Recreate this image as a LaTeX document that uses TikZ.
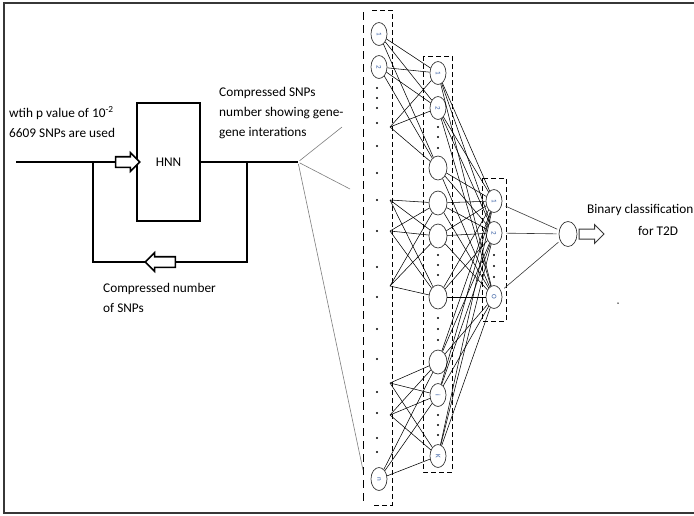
\documentclass[tikz,border=0pt]{standalone}
\usepackage{fontspec}
\setmainfont{Carlito}
\usetikzlibrary{arrows.meta, shapes.geometric, shapes.arrows, positioning, calc}
\definecolor{fgray}{RGB}{55,55,55}
\definecolor{lgray}{RGB}{125,125,125}
\definecolor{nblue}{RGB}{50,90,160}
\tikzset{
  % Neuron with a small rotated index
  NN/.style={ellipse,draw=fgray,line width=0.7pt,minimum width=16pt,
             minimum height=23pt,inner sep=0pt,font=\scriptsize,text=nblue},
  % Larger empty neuron
  NE/.style={NN,minimum width=18pt,minimum height=24pt},
  % Dot standing for skipped units
  Dt/.style={circle,fill=black,inner sep=0pt,minimum size=2.4pt},
  % Dashed layer box
  LB/.style={draw=black,line width=0.8pt,dash pattern=on 5pt off 3pt},
  % Thick signal line
  Thk/.style={line width=2.8pt,color=black},
  % Hollow block arrow
  HA/.style={single arrow,draw=black,fill=white,line width=1.6pt,
             minimum height=#1,inner xsep=0pt,inner ysep=4.5pt,
             single arrow head extend=4pt},
  HA/.default=24pt,
  % Network links
  Lnk/.style={line width=0.55pt,color=black},
  Fan/.style={line width=0.6pt,color=lgray},
  % Plain text
  Txt/.style={font=\fontsize{13.3}{20}\selectfont,align=left,anchor=west,
              inner sep=0pt},
}
\newcommand{\ix}[1]{\rotatebox{-90}{#1}}

\begin{document}
\begin{tikzpicture}[x=1pt,y=-1pt]
  \useasboundingbox (0,0) rectangle (694,515);
  % frame
  \draw[line width=2.2pt,color=fgray] (700,3) -- (4,3) -- (4,513) -- (700,513);

  % ---- HNN block with feedback ----
  \coordinate (src) at (16,162);
  \coordinate (j1)  at (93,162);
  \coordinate (j2)  at (247,162);
  \coordinate (tap) at (298,162);
  \coordinate (fbl) at (93,262);
  \coordinate (fbr) at (247,262);
  \node[draw,line width=2.6pt,minimum width=63pt,minimum height=118pt,
        font=\fontsize{13.3}{15}\selectfont] (hnn) at (168.5,162) {HNN};
  \draw[Thk] (src) -- (hnn);
  \draw[Thk] (hnn) -- (tap);
  \draw[Thk] (j1) -- (fbl) -- (fbr) -- (j2);
  \node[HA] (ha1) at (125,162) {};
  \node[HA=30pt,shape border rotate=180] (ha2) at (163,262) {};

  \node[Txt] (pv) at (9,122) {wtih p value of 10\textsuperscript{-2}\\6609 SNPs are used};
  \node[Txt] (cs) at (219,113) {Compressed SNPs\\number showing gene-\\gene interations};
  \node[Txt] (cn) at (103,298) {Compressed number\\of SNPs};

  % ---- layer boxes ----
  \draw[LB] (372,10) -- (392,10) -- (392,505) -- (372,505);
  \draw[LB,dash pattern=on 8pt off 5pt] (363,12) -- (363,503);
  \draw[LB] (423,56) rectangle (452,472);
  \draw[LB] (482,178) rectangle (506,321);

  % ---- input layer ----
  \node[NN] (i1) at (379,34)  {\ix{1}};
  \node[NN] (i2) at (379,67)  {\ix{2}};
  \node[NN] (in) at (379,479) {\ix{n}};
  \coordinate (p1) at (390,127);
  \coordinate (p2) at (390,200);
  \coordinate (p3) at (390,231);
  \coordinate (p4) at (390,286);
  \coordinate (p5) at (390,383);
  \coordinate (p6) at (390,415);
  \foreach \y [count=\k] in {88,98,108,123,146,173,200,231,267,297,329,359,392,413,438,452}
    \node[Dt] (da\k) at (377,\y) {};

  % ---- hidden layer ----
  \node[NN] (h1) at (438,73)  {\ix{1}};
  \node[NN] (h2) at (438,108) {\ix{2}};
  \node[NE] (h3) at (438,168) {};
  \node[NE] (h4) at (438,203) {};
  \node[NE] (h5) at (438,236) {};
  \node[NE] (h6) at (438,297) {};
  \node[NE] (h7) at (438,362) {};
  \node[NN] (h8) at (438,395) {\ix{i}};
  \node[NN] (h9) at (438,456) {\ix{K}};
  \foreach \y [count=\k] in {127,137,148,255,265,275,318,329,340,415,425,435}
    \node[Dt] (db\k) at (438,\y) {};

  % ---- output layer ----
  \node[NN] (o1) at (494,201) {\ix{1}};
  \node[NN] (o2) at (494,233) {\ix{2}};
  \node[NN] (o3) at (494,297) {\ix{O}};
  \foreach \y [count=\k] in {255,266,277}
    \node[Dt] (dc\k) at (494,\y) {};
  \node[NE,minimum width=18pt,minimum height=25pt] (out) at (568,234) {};

  % ---- links ----
  \foreach \a in {i1,i2,p1}
    \foreach \b in {h1,h2,h3} \draw[Lnk] (\a) -- (\b);
  \foreach \a in {p2,p3,p4}
    \foreach \b in {h4,h5,h6} \draw[Lnk] (\a) -- (\b);
  \foreach \a in {p5,p6,in}
    \foreach \b in {h7,h8,h9} \draw[Lnk] (\a) -- (\b);
  \foreach \k in {1,...,9}
    \foreach \b in {o1,o2,o3} \draw[Lnk] (h\k) -- (\b);
  \foreach \b in {o1,o2,o3}
    \draw[Fan,color=fgray,shorten <=4pt,shorten >=2pt] (\b) -- (out);

  % fan into the input layer
  \coordinate (f1) at (342,127);
  \coordinate (f2) at (350,189);
  \coordinate (f3) at (363,470);
  \foreach \f in {f1,f2,f3} \draw[Fan,shorten <=2pt] (tap) -- (\f);

  % ---- result ----
  \node[HA=25pt,line width=1pt,draw=fgray,single arrow head extend=4.5pt] (ha3) at (589,234) {};
  \node[Txt] (bc) at (587,210) {Binary classification};
  \node[Txt] (td) at (638,231) {for T2D};
  \node[Dt,minimum size=1.5pt] (sp) at (618,303) {};
\end{tikzpicture}
\end{document}
